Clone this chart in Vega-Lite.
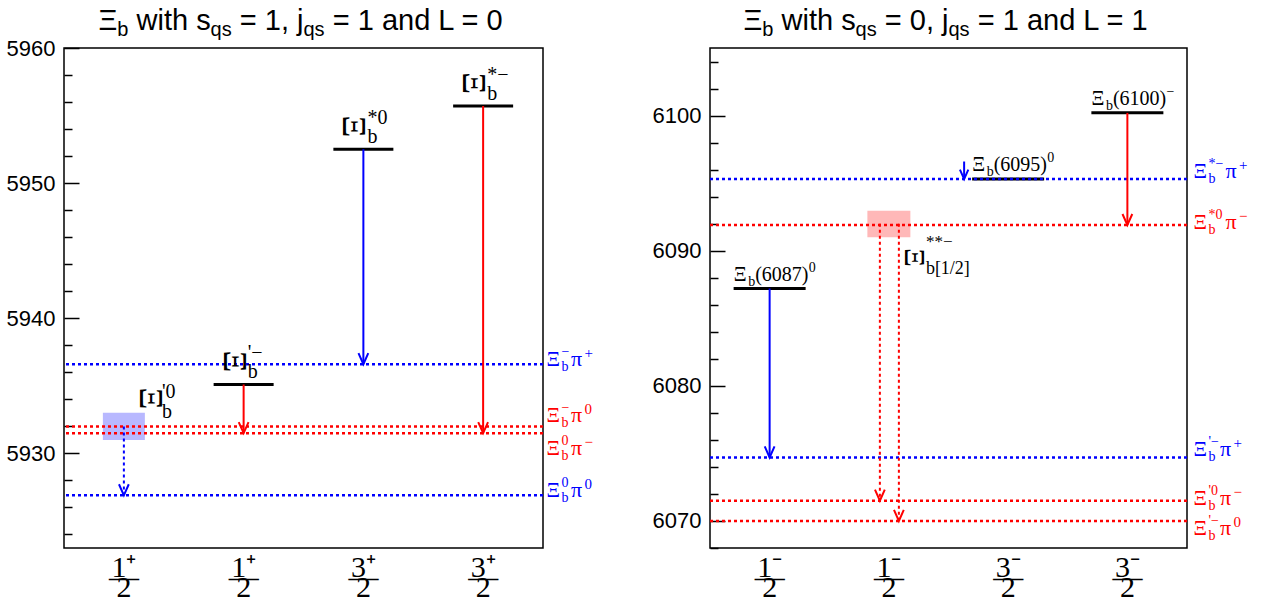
{
  "$schema": "https://vega.github.io/schema/vega-lite/v6.json",
  "background": "white",
  "padding": 5,
  "bounds": "flush",
  "spacing": 167,
  "config": {"view": {"stroke": "black", "strokeWidth": 1.5}},
  "datasets": {
    "statesL": [
      {"state": "Ξb'0", "sup": "'0", "mass": 5932.0, "low": 5931.0, "high": 5933.0, "charge": "0", "status": "predicted"},
      {"state": "Ξb'−", "sup": "'−", "mass": 5935.1, "charge": "−", "status": "observed"},
      {"state": "Ξb*0", "sup": "*0", "mass": 5952.5, "charge": "0", "status": "observed"},
      {"state": "Ξb*−", "sup": "*−", "mass": 5955.7, "charge": "−", "status": "observed"}
    ],
    "thresholdsL": [
      {"decay": "Ξb−π+", "sup": "−", "pion": "+", "mass": 5936.6, "charge": "0"},
      {"decay": "Ξb−π0", "sup": "−", "pion": "0", "mass": 5932.0, "charge": "−"},
      {"decay": "Ξb0π−", "sup": "0", "pion": "−", "mass": 5931.5, "charge": "−"},
      {"decay": "Ξb0π0", "sup": "0", "pion": "0", "mass": 5926.9, "charge": "0"}
    ],
    "decaysL": [
      {"state": "Ξb'0", "from": 5932.0, "to": 5926.9, "charge": "0", "status": "predicted"},
      {"state": "Ξb'−", "from": 5935.1, "to": 5931.5, "charge": "−", "status": "observed"},
      {"state": "Ξb*0", "from": 5952.5, "to": 5936.6, "charge": "0", "status": "observed"},
      {"state": "Ξb*−", "from": 5955.7, "to": 5931.5, "charge": "−", "status": "observed"}
    ],
    "statesR": [
      {"state": "Ξb(6087)0", "sub": "b", "name": "(6087)", "sup": "0", "mass": 6087.2, "charge": "0", "status": "observed"},
      {"state": "Ξb**−[1/2]", "sub": "b[1/2]", "sup": "**−", "mass": 6092.0, "low": 6091.0, "high": 6092.95, "charge": "−", "status": "predicted"},
      {"state": "Ξb(6095)0", "sub": "b", "name": "(6095)", "sup": "0", "mass": 6095.3, "charge": "0", "status": "observed"},
      {"state": "Ξb(6100)−", "sub": "b", "name": "(6100)", "sup": "−", "mass": 6100.2, "charge": "−", "status": "observed"}
    ],
    "thresholdsR": [
      {"decay": "Ξb*−π+", "sup": "*−", "pion": "+", "mass": 6095.3, "charge": "0"},
      {"decay": "Ξb*0π−", "sup": "*0", "pion": "−", "mass": 6091.9, "charge": "−"},
      {"decay": "Ξb'−π+", "sup": "'−", "pion": "+", "mass": 6074.7, "charge": "0"},
      {"decay": "Ξb'0π−", "sup": "'0", "pion": "−", "mass": 6071.5, "charge": "−"},
      {"decay": "Ξb'−π0", "sup": "'−", "pion": "0", "mass": 6070.0, "charge": "−"}
    ],
    "decaysR": [
      {"state": "Ξb(6087)0", "from": 6087.2, "to": 6074.7, "charge": "0", "status": "observed"},
      {"state": "Ξb**−[1/2]", "from": 6092.0, "to": 6071.5, "charge": "−", "status": "predicted"},
      {"state": "Ξb**−[1/2]", "from": 6092.0, "to": 6070.0, "charge": "−", "status": "predicted"},
      {"state": "Ξb(6095)0", "from": 6096.6, "to": 6095.3, "charge": "0", "status": "observed"},
      {"state": "Ξb(6100)−", "from": 6100.2, "to": 6091.9, "charge": "−", "status": "observed"}
    ],
    "titleL": [
      {"piece": 0, "text": "Ξ", "script": "base"},
      {"piece": 1, "text": "b", "script": "sub"},
      {"piece": 2, "text": "with s", "script": "base"},
      {"piece": 3, "text": "qs", "script": "sub"},
      {"piece": 4, "text": "= 1, j", "script": "base"},
      {"piece": 5, "text": "qs", "script": "sub"},
      {"piece": 6, "text": "= 1 and L = 0", "script": "base"}
    ],
    "titleR": [
      {"piece": 0, "text": "Ξ", "script": "base"},
      {"piece": 1, "text": "b", "script": "sub"},
      {"piece": 2, "text": "with s", "script": "base"},
      {"piece": 3, "text": "qs", "script": "sub"},
      {"piece": 4, "text": "= 0, j", "script": "base"},
      {"piece": 5, "text": "qs", "script": "sub"},
      {"piece": 6, "text": "= 1 and L = 1", "script": "base"}
    ]
  },
  "hconcat": [
    {
      "width": 479,
      "height": 500,
      "layer": [
        {
          "data": {"name": "statesL"},
          "transform": [{"filter": "datum.status === 'predicted'"}],
          "mark": {"type": "bar", "width": 42, "fillOpacity": 0.28},
          "encoding": {
            "x": {"field": "state", "type": "nominal",
              "scale": {"type": "band", "domain": ["Ξb'0", "Ξb'−", "Ξb*0", "Ξb*−"], "paddingInner": 0, "paddingOuter": 0},
              "axis": {"title": null, "domain": false, "ticks": false, "tickSize": 0, "labelAngle": 0, "labelFont": "Liberation Serif", "labelFontSize": 30, "labelColor": "black", "labelBaseline": "alphabetic", "labelLineHeight": 10, "labelPadding": 28, "labelOverlap": false,
                "labelExpr": "datum.value === 'Ξb*0' || datum.value === 'Ξb*−' ? ['3⁺', '—', '\u00a0', '2'] : ['1⁺', '—', '\u00a0', '2']"}},
            "y": {"field": "low", "type": "quantitative",
              "scale": {"domain": [5923, 5960], "nice": false, "zero": false},
              "axis": {"title": null, "domain": false, "grid": false, "tickCount": 40, "values": [5924, 5926, 5928, 5930, 5932, 5934, 5936, 5938, 5940, 5942, 5944, 5946, 5948, 5950, 5952, 5954, 5956, 5958, 5960],
                "format": "d", "labelExpr": "datum.value % 10 === 0 ? datum.label : ''",
                "tickSize": {"condition": {"test": "datum.value % 10 === 0", "value": -15}, "value": -8},
                "tickColor": "black", "tickWidth": 1.5, "labelFont": "Liberation Sans", "labelFontSize": 22, "labelColor": "black", "labelPadding": 24, "labelFlush": false, "labelOverlap": false}},
            "y2": {"field": "high"},
            "color": {"field": "charge", "type": "nominal", "scale": {"domain": ["0", "−"], "range": ["#0000ff", "#ff0000"]}, "legend": null}
          }
        },
        {
          "data": {"name": "statesL"},
          "transform": [{"filter": "datum.status === 'observed'"}],
          "mark": {"type": "tick", "size": 60, "thickness": 3, "color": "black", "opacity": 1},
          "encoding": {"x": {"field": "state", "type": "nominal"}, "y": {"field": "mass", "type": "quantitative"}}
        },
        {
          "data": {"name": "thresholdsL"},
          "mark": {"type": "rule", "strokeDash": [3, 3], "strokeWidth": 2.5},
          "encoding": {"y": {"field": "mass", "type": "quantitative"}, "color": {"field": "charge", "type": "nominal", "legend": null}}
        },
        {
          "data": {"name": "decaysL"},
          "mark": {"type": "rule", "strokeWidth": 2},
          "encoding": {
            "x": {"field": "state", "type": "nominal"},
            "y": {"field": "from", "type": "quantitative"}, "y2": {"field": "to"},
            "color": {"field": "charge", "type": "nominal", "legend": null},
            "strokeDash": {"field": "status", "type": "nominal", "scale": {"domain": ["observed", "predicted"], "range": [[1, 0], [3, 3]]}, "legend": null}
          }
        },
        {
          "data": {"name": "decaysL"},
          "mark": {"type": "point", "shape": "M-0.8,-1.8L0,0L0.8,-1.8", "size": 150, "filled": false, "strokeWidth": 2, "opacity": 1},
          "encoding": {"x": {"field": "state", "type": "nominal"}, "y": {"field": "to", "type": "quantitative"}, "color": {"field": "charge", "type": "nominal", "legend": null}}
        },
        {
          "data": {"name": "statesL"},
          "mark": {"type": "text", "text": "Ξ", "font": "Liberation Serif", "fontSize": 34, "angle": 90, "align": "center", "baseline": "middle", "color": "black",
            "dx": {"expr": "datum.status === 'observed' ? -23 : -28"}, "dy": {"expr": "datum.status === 'observed' ? 10 : -26.5"}},
          "encoding": {"x": {"field": "state", "type": "nominal"}, "y": {"field": "mass", "type": "quantitative"}}
        },
        {
          "data": {"name": "statesL"},
          "mark": {"type": "text", "text": "b", "font": "Liberation Serif", "fontSize": 20, "align": "left", "baseline": "alphabetic", "color": "black",
            "dx": {"expr": "datum.status === 'observed' ? 4 : 38"}, "dy": {"expr": "datum.status === 'observed' ? -6 : -8"}},
          "encoding": {"x": {"field": "state", "type": "nominal"}, "y": {"field": "mass", "type": "quantitative"}}
        },
        {
          "data": {"name": "statesL"},
          "mark": {"type": "text", "font": "Liberation Serif", "fontSize": 20, "align": "left", "baseline": "alphabetic", "color": "black",
            "dx": {"expr": "datum.status === 'observed' ? 4 : 38"}, "dy": {"expr": "datum.status === 'observed' ? -25 : -28"}},
          "encoding": {"x": {"field": "state", "type": "nominal"}, "y": {"field": "mass", "type": "quantitative"}, "text": {"field": "sup"}}
        },
        {
          "data": {"name": "thresholdsL"},
          "mark": {"type": "text", "text": "Ξ", "font": "Liberation Serif", "fontSize": 21, "align": "left", "baseline": "alphabetic", "dx": 3.5,
            "dy": {"expr": "(datum.decay === 'Ξb−π0' ? -4 : datum.decay === 'Ξb0π−' ? 22 : 2)"}},
          "encoding": {"x": {"datum": "Ξb*−", "type": "nominal", "bandPosition": 1}, "y": {"field": "mass", "type": "quantitative"}, "color": {"field": "charge", "type": "nominal", "legend": null}}
        },
        {
          "data": {"name": "thresholdsL"},
          "mark": {"type": "text", "text": "b", "font": "Liberation Serif", "fontSize": 14, "align": "left", "baseline": "alphabetic", "dx": 18.5,
            "dy": {"expr": "(datum.decay === 'Ξb−π0' ? -4 : datum.decay === 'Ξb0π−' ? 22 : 2) + 5"}},
          "encoding": {"x": {"datum": "Ξb*−", "type": "nominal", "bandPosition": 1}, "y": {"field": "mass", "type": "quantitative"}, "color": {"field": "charge", "type": "nominal", "legend": null}}
        },
        {
          "data": {"name": "thresholdsL"},
          "mark": {"type": "text", "font": "Liberation Serif", "fontSize": 14, "align": "left", "baseline": "alphabetic", "dx": 18.5,
            "dy": {"expr": "(datum.decay === 'Ξb−π0' ? -4 : datum.decay === 'Ξb0π−' ? 22 : 2) - 10"}},
          "encoding": {"x": {"datum": "Ξb*−", "type": "nominal", "bandPosition": 1}, "y": {"field": "mass", "type": "quantitative"}, "text": {"field": "sup"}, "color": {"field": "charge", "type": "nominal", "legend": null}}
        },
        {
          "data": {"name": "thresholdsL"},
          "mark": {"type": "text", "text": "π", "font": "Liberation Serif", "fontSize": 22, "align": "left", "baseline": "alphabetic", "dx": 28,
            "dy": {"expr": "(datum.decay === 'Ξb−π0' ? -4 : datum.decay === 'Ξb0π−' ? 22 : 2)"}},
          "encoding": {"x": {"datum": "Ξb*−", "type": "nominal", "bandPosition": 1}, "y": {"field": "mass", "type": "quantitative"}, "color": {"field": "charge", "type": "nominal", "legend": null}}
        },
        {
          "data": {"name": "thresholdsL"},
          "mark": {"type": "text", "font": "Liberation Serif", "fontSize": 15, "align": "left", "baseline": "alphabetic", "dx": 41.5,
            "dy": {"expr": "(datum.decay === 'Ξb−π0' ? -4 : datum.decay === 'Ξb0π−' ? 22 : 2) - 8"}},
          "encoding": {"x": {"datum": "Ξb*−", "type": "nominal", "bandPosition": 1}, "y": {"field": "mass", "type": "quantitative"}, "text": {"field": "pion"}, "color": {"field": "charge", "type": "nominal", "legend": null}}
        },
        {
          "data": {"name": "titleL"},
          "mark": {"type": "text", "font": "Liberation Sans", "align": "left", "baseline": "alphabetic", "color": "black",
            "dx": {"expr": "[-205, -186.2, -167, -92.9, -63.7, 0, 29.2][datum.piece]"},
            "dy": {"expr": "datum.script === 'sub' ? -12 : -18.5"}},
          "encoding": {
            "x": {"datum": "Ξb'−", "type": "nominal", "bandPosition": 1},
            "y": {"datum": 5960, "type": "quantitative"},
            "text": {"field": "text"},
            "size": {"field": "script", "type": "ordinal", "scale": {"domain": ["base", "sub"], "range": [29, 20]}, "legend": null}
          }
        }
      ]
    },
    {
      "width": 477,
      "height": 500,
      "layer": [
        {
          "data": {"name": "statesR"},
          "transform": [{"filter": "datum.status === 'predicted'"}],
          "mark": {"type": "bar", "width": 43, "fillOpacity": 0.28},
          "encoding": {
            "x": {"field": "state", "type": "nominal",
              "scale": {"type": "band", "domain": ["Ξb(6087)0", "Ξb**−[1/2]", "Ξb(6095)0", "Ξb(6100)−"], "paddingInner": 0, "paddingOuter": 0},
              "axis": {"title": null, "domain": false, "ticks": false, "tickSize": 0, "labelAngle": 0, "labelFont": "Liberation Serif", "labelFontSize": 30, "labelColor": "black", "labelBaseline": "alphabetic", "labelLineHeight": 10, "labelPadding": 28, "labelOverlap": false,
                "labelExpr": "datum.value === 'Ξb(6095)0' || datum.value === 'Ξb(6100)−' ? ['3⁻', '—', '\u00a0', '2'] : ['1⁻', '—', '\u00a0', '2']"}},
            "y": {"field": "low", "type": "quantitative",
              "scale": {"domain": [6068, 6105], "nice": false, "zero": false},
              "axis": {"title": null, "domain": false, "grid": false, "tickCount": 40, "values": [6068, 6070, 6072, 6074, 6076, 6078, 6080, 6082, 6084, 6086, 6088, 6090, 6092, 6094, 6096, 6098, 6100, 6102, 6104],
                "format": "d", "labelExpr": "datum.value % 10 === 0 ? datum.label : ''",
                "tickSize": {"condition": {"test": "datum.value % 10 === 0", "value": -15}, "value": -8},
                "tickColor": "black", "tickWidth": 1.5, "labelFont": "Liberation Sans", "labelFontSize": 22, "labelColor": "black", "labelPadding": 24, "labelFlush": false, "labelOverlap": false}},
            "y2": {"field": "high"},
            "color": {"field": "charge", "type": "nominal", "scale": {"domain": ["0", "−"], "range": ["#0000ff", "#ff0000"]}, "legend": null}
          }
        },
        {
          "data": {"name": "statesR"},
          "transform": [{"filter": "datum.status === 'observed'"}],
          "mark": {"type": "tick", "size": 72, "thickness": 3, "color": "black", "opacity": 1},
          "encoding": {"x": {"field": "state", "type": "nominal"}, "y": {"field": "mass", "type": "quantitative"}}
        },
        {
          "data": {"name": "thresholdsR"},
          "mark": {"type": "rule", "strokeDash": [3, 3], "strokeWidth": 2.5},
          "encoding": {"y": {"field": "mass", "type": "quantitative"}, "color": {"field": "charge", "type": "nominal", "legend": null}}
        },
        {
          "data": {"name": "decaysR"},
          "transform": [{"filter": "datum.state === 'Ξb(6087)0' || datum.state === 'Ξb(6100)−'"}],
          "mark": {"type": "rule", "strokeWidth": 2},
          "encoding": {"x": {"field": "state", "type": "nominal"}, "y": {"field": "from", "type": "quantitative"}, "y2": {"field": "to"}, "color": {"field": "charge", "type": "nominal", "legend": null}}
        },
        {
          "data": {"name": "decaysR"},
          "transform": [{"filter": "datum.state === 'Ξb(6087)0' || datum.state === 'Ξb(6100)−'"}],
          "mark": {"type": "point", "shape": "M-0.8,-1.8L0,0L0.8,-1.8", "size": 150, "filled": false, "strokeWidth": 2, "opacity": 1},
          "encoding": {"x": {"field": "state", "type": "nominal"}, "y": {"field": "to", "type": "quantitative"}, "color": {"field": "charge", "type": "nominal", "legend": null}}
        },
        {
          "data": {"name": "decaysR"},
          "transform": [{"filter": "datum.state === 'Ξb**−[1/2]' && datum.to > 6071"}],
          "mark": {"type": "rule", "strokeWidth": 2, "strokeDash": [3, 3], "xOffset": -9},
          "encoding": {"x": {"field": "state", "type": "nominal"}, "y": {"field": "from", "type": "quantitative"}, "y2": {"field": "to"}, "color": {"field": "charge", "type": "nominal", "legend": null}}
        },
        {
          "data": {"name": "decaysR"},
          "transform": [{"filter": "datum.state === 'Ξb**−[1/2]' && datum.to > 6071"}],
          "mark": {"type": "point", "shape": "M-0.8,-1.8L0,0L0.8,-1.8", "size": 150, "filled": false, "strokeWidth": 2, "opacity": 1, "xOffset": -9},
          "encoding": {"x": {"field": "state", "type": "nominal"}, "y": {"field": "to", "type": "quantitative"}, "color": {"field": "charge", "type": "nominal", "legend": null}}
        },
        {
          "data": {"name": "decaysR"},
          "transform": [{"filter": "datum.state === 'Ξb**−[1/2]' && datum.to < 6071"}],
          "mark": {"type": "rule", "strokeWidth": 2, "strokeDash": [3, 3], "xOffset": 10},
          "encoding": {"x": {"field": "state", "type": "nominal"}, "y": {"field": "from", "type": "quantitative"}, "y2": {"field": "to"}, "color": {"field": "charge", "type": "nominal", "legend": null}}
        },
        {
          "data": {"name": "decaysR"},
          "transform": [{"filter": "datum.state === 'Ξb**−[1/2]' && datum.to < 6071"}],
          "mark": {"type": "point", "shape": "M-0.8,-1.8L0,0L0.8,-1.8", "size": 150, "filled": false, "strokeWidth": 2, "opacity": 1, "xOffset": 10},
          "encoding": {"x": {"field": "state", "type": "nominal"}, "y": {"field": "to", "type": "quantitative"}, "color": {"field": "charge", "type": "nominal", "legend": null}}
        },
        {
          "data": {"name": "decaysR"},
          "transform": [{"filter": "datum.state === 'Ξb(6095)0'"}],
          "mark": {"type": "rule", "strokeWidth": 2, "xOffset": -44},
          "encoding": {"x": {"field": "state", "type": "nominal"}, "y": {"field": "from", "type": "quantitative"}, "y2": {"field": "to"}, "color": {"field": "charge", "type": "nominal", "legend": null}}
        },
        {
          "data": {"name": "decaysR"},
          "transform": [{"filter": "datum.state === 'Ξb(6095)0'"}],
          "mark": {"type": "point", "shape": "M-0.8,-1.8L0,0L0.8,-1.8", "size": 110, "filled": false, "strokeWidth": 2, "opacity": 1, "xOffset": -44},
          "encoding": {"x": {"field": "state", "type": "nominal"}, "y": {"field": "to", "type": "quantitative"}, "color": {"field": "charge", "type": "nominal", "legend": null}}
        },
        {
          "data": {"name": "statesR"},
          "transform": [{"filter": "datum.status === 'observed'"}],
          "mark": {"type": "text", "text": "Ξ", "font": "Liberation Serif", "fontSize": 20, "align": "left", "baseline": "alphabetic", "color": "black", "dx": -36, "dy": -8},
          "encoding": {"x": {"field": "state", "type": "nominal"}, "y": {"field": "mass", "type": "quantitative"}}
        },
        {
          "data": {"name": "statesR"},
          "transform": [{"filter": "datum.status === 'observed'"}],
          "mark": {"type": "text", "font": "Liberation Serif", "fontSize": 14, "align": "left", "baseline": "alphabetic", "color": "black", "dx": -21.5, "dy": -3},
          "encoding": {"x": {"field": "state", "type": "nominal"}, "y": {"field": "mass", "type": "quantitative"}, "text": {"field": "sub"}}
        },
        {
          "data": {"name": "statesR"},
          "transform": [{"filter": "datum.status === 'observed'"}],
          "mark": {"type": "text", "font": "Liberation Serif", "fontSize": 20, "align": "left", "baseline": "alphabetic", "color": "black", "dx": -14.5, "dy": -8},
          "encoding": {"x": {"field": "state", "type": "nominal"}, "y": {"field": "mass", "type": "quantitative"}, "text": {"field": "name"}}
        },
        {
          "data": {"name": "statesR"},
          "transform": [{"filter": "datum.status === 'observed'"}],
          "mark": {"type": "text", "font": "Liberation Serif", "fontSize": 14, "align": "left", "baseline": "alphabetic", "color": "black", "dx": 39, "dy": -17},
          "encoding": {"x": {"field": "state", "type": "nominal"}, "y": {"field": "mass", "type": "quantitative"}, "text": {"field": "sup"}}
        },
        {
          "data": {"name": "statesR"},
          "transform": [{"filter": "datum.status === 'predicted'"}],
          "mark": {"type": "text", "text": "Ξ", "font": "Liberation Serif", "fontSize": 29, "angle": 90, "align": "center", "baseline": "middle", "color": "black", "dx": 34, "dy": -25},
          "encoding": {"x": {"field": "state", "type": "nominal"}, "y": {"field": "mass", "type": "quantitative"}}
        },
        {
          "data": {"name": "statesR"},
          "transform": [{"filter": "datum.status === 'predicted'"}],
          "mark": {"type": "text", "font": "Liberation Serif", "fontSize": 17, "align": "left", "baseline": "alphabetic", "color": "black", "dx": 37, "dy": 23},
          "encoding": {"x": {"field": "state", "type": "nominal"}, "y": {"field": "mass", "type": "quantitative"}, "text": {"field": "sup"}}
        },
        {
          "data": {"name": "statesR"},
          "transform": [{"filter": "datum.status === 'predicted'"}],
          "mark": {"type": "text", "font": "Liberation Serif", "fontSize": 18, "align": "left", "baseline": "alphabetic", "color": "black", "dx": 37, "dy": 50},
          "encoding": {"x": {"field": "state", "type": "nominal"}, "y": {"field": "mass", "type": "quantitative"}, "text": {"field": "sub"}}
        },
        {
          "data": {"name": "thresholdsR"},
          "mark": {"type": "text", "text": "Ξ", "font": "Liberation Serif", "fontSize": 21, "align": "left", "baseline": "alphabetic", "dx": 6.5,
            "dy": {"expr": "(datum.decay === \"Ξb'−π0\" ? 14 : datum.charge === '0' ? -1 : 4)"}},
          "encoding": {"x": {"datum": "Ξb(6100)−", "type": "nominal", "bandPosition": 1}, "y": {"field": "mass", "type": "quantitative"}, "color": {"field": "charge", "type": "nominal", "legend": null}}
        },
        {
          "data": {"name": "thresholdsR"},
          "mark": {"type": "text", "text": "b", "font": "Liberation Serif", "fontSize": 14, "align": "left", "baseline": "alphabetic", "dx": 21.5,
            "dy": {"expr": "(datum.decay === \"Ξb'−π0\" ? 14 : datum.charge === '0' ? -1 : 4) + 5"}},
          "encoding": {"x": {"datum": "Ξb(6100)−", "type": "nominal", "bandPosition": 1}, "y": {"field": "mass", "type": "quantitative"}, "color": {"field": "charge", "type": "nominal", "legend": null}}
        },
        {
          "data": {"name": "thresholdsR"},
          "mark": {"type": "text", "font": "Liberation Serif", "fontSize": 14, "align": "left", "baseline": "alphabetic", "dx": 21.5,
            "dy": {"expr": "(datum.decay === \"Ξb'−π0\" ? 14 : datum.charge === '0' ? -1 : 4) - 10"}},
          "encoding": {"x": {"datum": "Ξb(6100)−", "type": "nominal", "bandPosition": 1}, "y": {"field": "mass", "type": "quantitative"}, "text": {"field": "sup"}, "color": {"field": "charge", "type": "nominal", "legend": null}}
        },
        {
          "data": {"name": "thresholdsR"},
          "mark": {"type": "text", "text": "π", "font": "Liberation Serif", "fontSize": 22, "align": "left", "baseline": "alphabetic",
            "dx": {"expr": "indexof(datum.sup, '*') >= 0 ? 38.5 : 33"},
            "dy": {"expr": "(datum.decay === \"Ξb'−π0\" ? 14 : datum.charge === '0' ? -1 : 4)"}},
          "encoding": {"x": {"datum": "Ξb(6100)−", "type": "nominal", "bandPosition": 1}, "y": {"field": "mass", "type": "quantitative"}, "color": {"field": "charge", "type": "nominal", "legend": null}}
        },
        {
          "data": {"name": "thresholdsR"},
          "mark": {"type": "text", "font": "Liberation Serif", "fontSize": 15, "align": "left", "baseline": "alphabetic",
            "dx": {"expr": "indexof(datum.sup, '*') >= 0 ? 52 : 46.5"},
            "dy": {"expr": "(datum.decay === \"Ξb'−π0\" ? 14 : datum.charge === '0' ? -1 : 4) - 8"}},
          "encoding": {"x": {"datum": "Ξb(6100)−", "type": "nominal", "bandPosition": 1}, "y": {"field": "mass", "type": "quantitative"}, "text": {"field": "pion"}, "color": {"field": "charge", "type": "nominal", "legend": null}}
        },
        {
          "data": {"name": "titleR"},
          "mark": {"type": "text", "font": "Liberation Sans", "align": "left", "baseline": "alphabetic", "color": "black",
            "dx": {"expr": "[-205, -186.2, -167, -92.9, -63.7, 0, 29.2][datum.piece]"},
            "dy": {"expr": "datum.script === 'sub' ? -12 : -18.5"}},
          "encoding": {
            "x": {"datum": "Ξb**−[1/2]", "type": "nominal", "bandPosition": 1},
            "y": {"datum": 6105, "type": "quantitative"},
            "text": {"field": "text"},
            "size": {"field": "script", "type": "ordinal", "scale": {"domain": ["base", "sub"], "range": [29, 20]}, "legend": null}
          }
        }
      ]
    }
  ]
}
